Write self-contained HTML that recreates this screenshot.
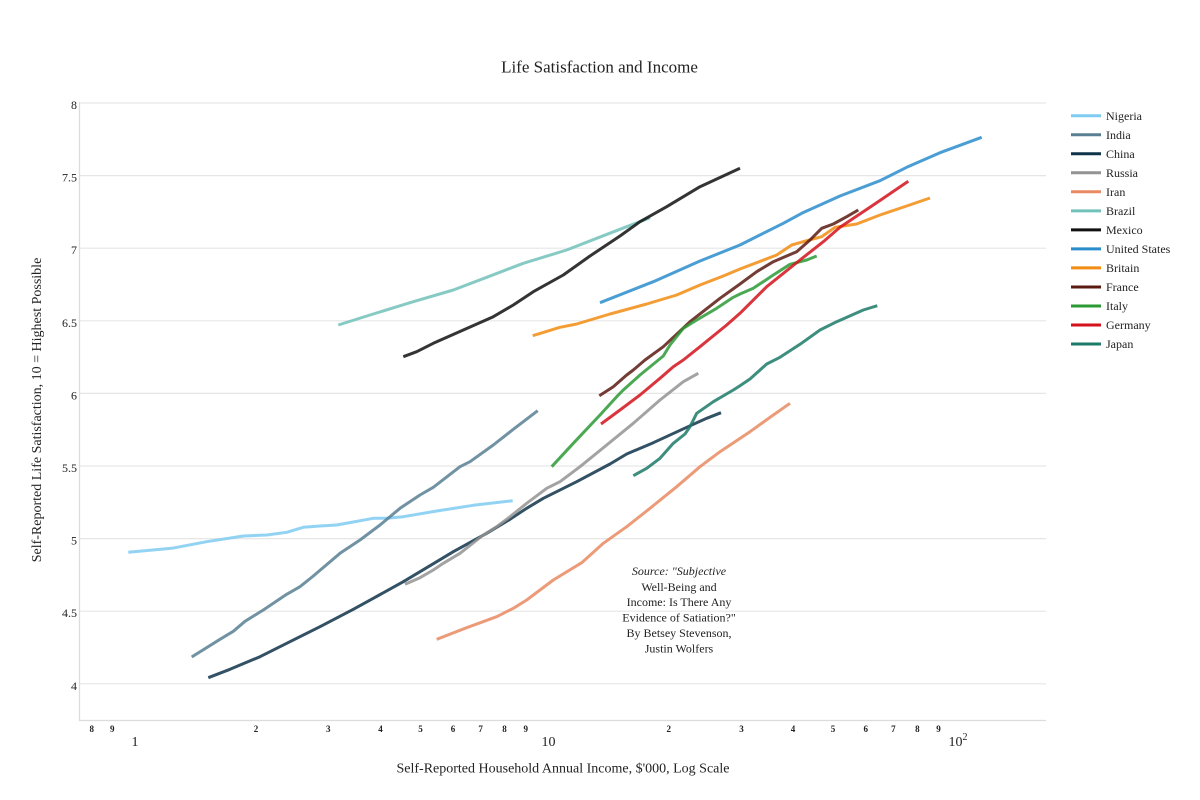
<!DOCTYPE html>
<html>
<head>
<meta charset="utf-8">
<style>
  html, body { margin: 0; padding: 0; background: #ffffff; }
  svg { display: block; }
  text { font-family: "Liberation Serif", "Times New Roman", serif; fill: #222; }
</style>
</head>
<body>
<svg width="1200" height="800" viewBox="0 0 1200 800" xmlns="http://www.w3.org/2000/svg">
  <rect x="0" y="0" width="1200" height="800" fill="#ffffff"/>

  <!-- Title -->
  <text x="599.5" y="72.5" font-size="17" text-anchor="middle">Life Satisfaction and Income</text>

  <!-- Gridlines -->
  <g stroke="#e6e6e6" stroke-width="1.2" fill="none">
    <line x1="79.5" y1="103" x2="1046" y2="103"/>
    <line x1="79.5" y1="175.6" x2="1046" y2="175.6"/>
    <line x1="79.5" y1="248.2" x2="1046" y2="248.2"/>
    <line x1="79.5" y1="320.8" x2="1046" y2="320.8"/>
    <line x1="79.5" y1="393.4" x2="1046" y2="393.4"/>
    <line x1="79.5" y1="466" x2="1046" y2="466"/>
    <line x1="79.5" y1="538.6" x2="1046" y2="538.6"/>
    <line x1="79.5" y1="611.2" x2="1046" y2="611.2"/>
    <line x1="79.5" y1="683.8" x2="1046" y2="683.8"/>
  </g>
  <!-- Axes -->
  <g stroke="#dcdcdc" stroke-width="1.3" fill="none">
    <line x1="79.5" y1="102" x2="79.5" y2="721"/>
    <line x1="79" y1="720.5" x2="1046" y2="720.5"/>
  </g>

  <!-- Y tick labels -->
  <g font-size="12" text-anchor="end">
    <text x="77" y="109">8</text>
    <text x="77" y="181.6">7.5</text>
    <text x="77" y="254.2">7</text>
    <text x="77" y="326.8">6.5</text>
    <text x="77" y="399.4">6</text>
    <text x="77" y="472">5.5</text>
    <text x="77" y="544.6">5</text>
    <text x="77" y="617.2">4.5</text>
    <text x="77" y="689.8">4</text>
  </g>

  <!-- Y axis title -->
  <text transform="translate(41,410) rotate(-90)" font-size="14" text-anchor="middle">Self-Reported Life Satisfaction, 10 = Highest Possible</text>

  <!-- X minor tick labels -->
  <g font-size="9" text-anchor="middle" font-weight="bold" fill="#333">
    <text x="91.7" y="732">8</text>
    <text x="112.3" y="732">9</text>
    <text x="256" y="732">2</text>
    <text x="328.3" y="732">3</text>
    <text x="380.5" y="732">4</text>
    <text x="420.5" y="732">5</text>
    <text x="453" y="732">6</text>
    <text x="480.6" y="732">7</text>
    <text x="504.5" y="732">8</text>
    <text x="525.7" y="732">9</text>
    <text x="668.8" y="732">2</text>
    <text x="741.5" y="732">3</text>
    <text x="793" y="732">4</text>
    <text x="833" y="732">5</text>
    <text x="865.8" y="732">6</text>
    <text x="893.4" y="732">7</text>
    <text x="917.4" y="732">8</text>
    <text x="938.5" y="732">9</text>
  </g>
  <!-- X major tick labels -->
  <g font-size="14" text-anchor="middle">
    <text x="135" y="746">1</text>
    <text x="548.5" y="746">10</text>
    <text x="958" y="746">10<tspan font-size="10" dy="-6">2</tspan></text>
  </g>

  <!-- X axis title -->
  <text x="563" y="772.5" font-size="14" text-anchor="middle">Self-Reported Household Annual Income, $'000, Log Scale</text>

  <!-- Series -->
  <g fill="none" stroke-width="3" stroke-linejoin="round" stroke-linecap="butt" stroke-opacity="0.85">
    <!-- Nigeria -->
    <polyline stroke="#7fcbf2" points="128.3,552.3 171.7,548.3 206.7,541.7 243.3,536 266.7,535 286.7,532.3 303.3,527.3 320,526 336.7,525 353.3,522 373.3,518.3 386.7,518.3 403.3,516.7 436.7,511 473.3,505.3 512.7,500.7"/>
    <!-- India -->
    <polyline stroke="#587f92" points="191.7,657 220,639.3 233.3,631.3 245,621.3 263.3,610 286.7,594.3 300,586.7 313.3,576 340,553.3 360,540 380,525 400,508.3 420,495 433.3,487.3 460,466.7 470,461.7 493.3,445 513.3,429.3 537.7,410.7"/>
    <!-- China -->
    <polyline stroke="#0f3349" points="208.3,677.7 230,669.3 260,656.7 286.7,643.3 320,626.7 353.3,609.3 373.3,598.3 403.3,581.7 436.7,561.7 453.3,551.7 486.7,533.3 510,519.3 526.7,508.3 543.3,498.3 576.7,481.7 610,464 626.7,454 653.3,442.7 686.7,427.3 706.7,418.3 721,412.7"/>
    <!-- Russia -->
    <polyline stroke="#939393" points="405,584.3 420,577.7 433.3,570 443.3,563.3 460,553.3 483.3,535 496.7,526.7 510,516.7 526.7,503.3 546.7,488.3 560,481.7 580,466.7 606.7,445 633.3,423.3 660,400 683.3,381.7 698.3,373.3"/>
    <!-- Iran -->
    <polyline stroke="#e98a62" points="436.7,639.3 466.7,627.7 496.7,616.7 513.3,608.3 526.7,600 553.3,580 581.7,562.7 603.3,543.3 626.7,526.7 650,508.3 676.7,486.7 700,466.7 720,451.7 750,431.7 773.3,415 790,403.3"/>
    <!-- Brazil -->
    <polyline stroke="#72c1ba" points="338.3,325 370,315 413.3,301.7 453.3,290 486.7,277.3 523.3,263.3 566.7,250 596.7,238.3 626.7,226.7 650,217.7"/>
    <!-- Mexico -->
    <polyline stroke="#111111" points="403.3,356.7 416.7,351.7 433.3,343.3 463.3,330 493.3,316.7 513.3,305 533.3,291.7 563.3,275 590,256 620,236 640,221.7 666.7,206.7 700,186.7 740,168.3"/>
    <!-- United States -->
    <polyline stroke="#2a8dcb" points="600,302.7 653.3,281.7 700,261 740,245 783.3,223.3 801.7,213.3 840,196 880,180.7 906.7,167.3 940,152.7 981.7,137.3"/>
    <!-- Britain -->
    <polyline stroke="#f28c12" points="532.7,335.7 560,327.3 576.7,324 610,314 646.7,304 676.7,295 700,285 723.3,276 740,269 776.7,255 791.7,245 806.7,240.7 821.7,236.7 835,227.3 856.7,224 880,215 906.7,206 930,198"/>
    <!-- France -->
    <polyline stroke="#5a1a10" points="599.3,395.7 613.3,386.7 626.7,375 633.3,370 645,360 663.3,346.7 690,321.7 720,298.3 740,284 756.7,271.7 773.3,261.7 796.7,251.7 810,240 821.7,228.3 833.3,224 846.7,216.7 858.3,210"/>
    <!-- Italy -->
    <polyline stroke="#2b9a35" points="551.7,466.7 573.3,443.3 600,415 616.7,396.7 623.3,390 640,375 663.3,356 670,345 683.3,328.3 696.7,320 716.7,308.3 733.3,297.3 740,294 753.3,288.3 773.3,275 790,264.3 806.7,260 816.7,256"/>
    <!-- Germany -->
    <polyline stroke="#d4121b" points="601,424 620,410 640,395 660,378.3 673.3,366.7 683.3,360 700,346.7 726.7,325 740,313.3 766.7,286.7 800,260 823.3,241.7 840,227.3 873.3,205 908.3,181.3"/>
    <!-- Japan -->
    <polyline stroke="#1c7a68" points="633.3,475.7 646.7,468.3 660,458.3 673.3,443.3 685,434 690,426.7 696.7,413.3 713.3,401.7 733.3,390 740,385.7 750,379 766.7,364 780,357.3 800,344.3 820,330 836.7,321.7 863.3,310 877.3,305.7"/>
  </g>

  <!-- Source annotation -->
  <g font-size="12" text-anchor="middle">
    <text x="679" y="575"><tspan font-style="italic">Source: "Subjective</tspan></text>
    <text x="679" y="591">Well-Being and</text>
    <text x="679" y="606">Income: Is There Any</text>
    <text x="679" y="621.5">Evidence of Satiation?"</text>
    <text x="679" y="637">By Betsey Stevenson,</text>
    <text x="679" y="652.5">Justin Wolfers</text>
  </g>

  <!-- Legend -->
  <g stroke-width="3" fill="none">
    <line x1="1071" y1="115.7" x2="1101" y2="115.7" stroke="#7fcbf2"/>
    <line x1="1071" y1="134.7" x2="1101" y2="134.7" stroke="#587f92"/>
    <line x1="1071" y1="153.8" x2="1101" y2="153.8" stroke="#0f3349"/>
    <line x1="1071" y1="172.8" x2="1101" y2="172.8" stroke="#939393"/>
    <line x1="1071" y1="191.8" x2="1101" y2="191.8" stroke="#e98a62"/>
    <line x1="1071" y1="210.9" x2="1101" y2="210.9" stroke="#72c1ba"/>
    <line x1="1071" y1="229.9" x2="1101" y2="229.9" stroke="#111111"/>
    <line x1="1071" y1="248.9" x2="1101" y2="248.9" stroke="#2a8dcb"/>
    <line x1="1071" y1="267.9" x2="1101" y2="267.9" stroke="#f28c12"/>
    <line x1="1071" y1="287" x2="1101" y2="287" stroke="#5a1a10"/>
    <line x1="1071" y1="306" x2="1101" y2="306" stroke="#2b9a35"/>
    <line x1="1071" y1="325" x2="1101" y2="325" stroke="#d4121b"/>
    <line x1="1071" y1="344" x2="1101" y2="344" stroke="#1c7a68"/>
  </g>
  <g font-size="12">
    <text x="1106" y="119.9">Nigeria</text>
    <text x="1106" y="138.9">India</text>
    <text x="1106" y="158">China</text>
    <text x="1106" y="177">Russia</text>
    <text x="1106" y="196">Iran</text>
    <text x="1106" y="215.1">Brazil</text>
    <text x="1106" y="234.1">Mexico</text>
    <text x="1106" y="253.1">United States</text>
    <text x="1106" y="272.1">Britain</text>
    <text x="1106" y="291.2">France</text>
    <text x="1106" y="310.2">Italy</text>
    <text x="1106" y="329.2">Germany</text>
    <text x="1106" y="348.2">Japan</text>
  </g>
</svg>
</body>
</html>
